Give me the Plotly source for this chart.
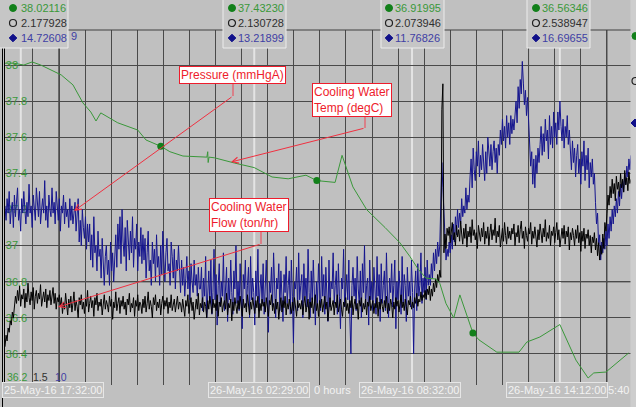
import plotly.graph_objects as go
import pandas as pd

# ---------------- data ----------------
START = "2016-05-25 16:55:40"
END = "2016-05-26 16:55:40"

# Condenser pressure (mmHgA), sampled evenly over the 24 h window
pressure_mmHgA = [
    15.1, 14.7, 15.3, 14.9, 15.5, 14.6, 15.0, 15.2, 14.5, 15.4, 14.8, 15.1, 15.6, 14.7, 15.0, 14.4, 15.3, 14.9, 15.5, 15.0,
    14.6, 15.2, 14.8, 15.7, 14.9, 15.1, 14.5, 15.4, 15.0, 14.7, 15.6, 15.2, 14.8, 15.5, 14.6, 15.0, 15.3, 14.9, 15.8, 14.7,
    15.1, 14.5, 15.4, 15.0, 14.8, 15.6, 14.9, 15.2, 14.6, 15.5, 15.0, 14.7, 15.3, 14.4, 15.1, 14.9, 15.4, 14.6, 15.2, 14.8,
    15.0, 14.5, 15.3, 14.7, 15.1, 14.6, 14.9,
    15.2, 14.4, 14.9, 15.3, 14.1, 14.7, 14.0, 15.0, 14.5, 14.2, 14.8, 13.9, 14.6, 14.1,
    14.6, 13.6, 14.3, 13.4, 14.8, 13.8, 14.0, 13.3, 14.4, 13.7,
    13.9, 13.1, 14.2, 13.4, 12.9, 13.7, 14.0, 13.2, 13.6, 12.9, 14.1, 13.3, 13.8, 13.0,
    13.6, 14.3, 13.4, 14.6, 13.9, 14.8, 13.5, 15.0, 14.1, 13.7, 14.5, 13.3, 14.7, 14.0, 13.6, 14.4, 13.8, 14.8, 13.4, 14.2,
    13.9, 14.6, 13.3, 14.1, 13.7, 14.5, 13.5, 14.3, 13.6,
    14.2, 13.1, 13.8, 14.4, 13.3, 13.6, 12.9, 14.1, 13.5, 13.9, 13.0, 14.3, 13.4, 13.7, 12.9, 14.0, 13.2, 14.4, 13.6, 13.0,
    13.8, 14.2, 13.3, 13.5, 12.9, 14.1, 13.7, 13.1, 13.9, 12.8, 13.6, 13.3, 14.0,
    13.2, 12.7, 13.6, 12.9, 13.4, 12.6, 13.1, 13.7, 12.8, 13.3, 12.5, 13.5, 13.0, 12.7, 13.6, 12.9, 13.2, 12.6, 13.4, 12.8,
    12.8, 13.4, 12.2, 13.1, 12.6, 13.7, 12.0, 12.9, 13.3, 12.4, 13.6, 12.1, 12.7, 13.9, 12.5, 13.2, 11.8, 12.9, 13.5, 12.3,
    13.0, 12.6, 13.8, 12.2, 12.9, 13.4, 11.9, 13.1, 12.5, 13.6, 12.7, 12.1, 13.3, 12.8, 14.0, 12.4, 13.0, 12.2, 13.5, 12.6,
    11.7, 13.2, 12.8, 13.6, 12.3, 12.9, 13.4, 12.0, 13.7, 12.5, 13.1, 12.7, 11.8, 13.3, 12.6, 13.9, 12.2, 12.8, 13.2, 12.4,
    13.5, 12.1, 12.9, 13.6, 12.5, 11.6, 13.0, 12.7, 13.4, 12.3, 13.8, 12.6, 12.0, 13.1, 12.8, 13.5, 12.2, 13.3, 12.5, 11.9,
    13.2, 12.7, 13.7, 12.4, 12.9, 13.3, 12.1, 13.6, 12.6, 11.3, 13.0, 12.8, 13.4, 12.2, 13.8, 12.5, 12.9, 13.2, 12.0, 13.5,
    12.6, 13.1, 12.3, 13.9, 12.7, 12.0, 13.3, 12.5, 13.6, 12.8, 11.8, 13.0, 12.4, 13.5, 12.9, 12.2, 13.7, 12.6, 13.2, 12.1,
    13.4, 12.7, 11.9, 13.6, 12.3, 13.0, 12.8, 13.8, 12.4, 12.9, 13.3, 12.1, 13.5, 12.6, 11.7, 13.1, 12.8, 13.9, 12.3, 12.7,
    13.2, 12.5, 13.6, 12.0, 11.0, 12.9, 13.4, 12.6, 13.1, 12.2, 13.7, 12.8, 12.4, 13.3, 12.0, 13.5, 12.7, 14.0, 12.3, 12.9,
    13.1, 11.8, 13.6, 12.5, 13.0, 12.2, 13.4, 12.8, 12.1, 13.7, 12.6, 13.2, 11.9, 13.5, 12.4, 12.9, 13.3, 12.2, 13.8, 12.6,
    12.0, 13.1, 12.7, 13.5, 12.3, 12.9, 13.6, 11.7, 13.0, 12.5, 13.3, 12.8, 12.1, 13.7, 12.4, 13.2, 12.9, 11.9, 13.4, 12.6,
    13.0, 12.3, 13.6, 12.7, 11.0, 12.8, 13.3, 12.2, 13.5, 12.6, 12.9, 13.8, 12.4, 13.1, 12.7, 13.4, 12.5, 13.6, 12.9, 13.2,
    12.9, 13.5, 13.1, 13.8, 13.3, 13.9, 13.5, 14.1, 13.7, 14.0,
    15.2, 16.3, 15.6, 14.8, 14.0, 13.6, 13.9, 13.7, 14.1,
    13.8, 14.3, 13.9, 14.6, 14.1, 14.8, 14.3, 15.0, 14.5, 14.9, 14.6, 15.3, 14.8, 15.1, 14.9, 15.6, 15.0, 15.4, 15.2,
    15.9, 16.4, 15.6, 16.7, 16.1, 15.8, 16.6, 16.2, 16.9, 15.9, 16.5, 16.1, 16.8, 16.3, 15.8, 16.6, 16.0, 17.0, 16.4, 16.2,
    16.8, 16.1, 16.6, 16.9, 16.3, 16.7, 16.0, 16.8, 16.5,
    17.2, 16.8, 17.5, 16.9, 17.3, 16.7, 17.6, 17.0, 17.4, 16.8, 17.6, 17.1, 17.5, 17.2,
    17.5, 18.0, 17.4, 18.4, 17.8, 18.6, 18.2, 19.1, 18.5, 17.9, 18.3, 17.6, 18.1, 17.3,
    17.0, 16.2, 16.6, 15.7, 16.4, 15.6, 16.5, 16.0, 16.7, 16.3,
    16.8, 17.3, 16.5, 17.1, 16.6, 17.5, 16.9, 17.2, 16.4, 17.6, 16.8, 17.3, 16.7, 17.7,
    17.0, 17.4, 16.8, 17.7, 17.2, 18.0, 17.3, 16.9, 17.5, 16.7, 17.3, 17.0, 17.6, 16.8, 17.2,
    16.6, 16.1, 16.9, 16.3, 16.7, 15.9, 16.5, 16.8, 16.0, 16.4, 15.7, 16.6, 16.2, 16.9, 15.8, 16.5, 16.1, 16.7, 15.6, 16.3,
    15.9, 16.4, 15.7, 16.0,
    15.2, 14.6, 14.9, 14.0, 14.3, 13.6, 14.1, 13.8, 14.2,
    13.9, 14.4, 14.0, 14.6, 14.2, 14.8, 14.4, 15.0, 14.6, 15.1, 14.8, 15.3, 14.9, 15.5, 15.1, 15.7, 15.3, 15.8, 15.5, 16.0,
    15.7, 16.2, 15.9, 16.4, 16.1, 16.5,
]

# Cooling water flow (ton/hr), sampled evenly over the 24 h window
flow_ton_hr = [
    1.80, 1.88, 1.84, 1.93, 1.90, 1.98, 1.95, 2.04, 2.00, 2.08,
    2.15, 2.10, 2.19, 2.12, 2.22, 2.08, 2.16, 2.13, 2.20, 2.07, 2.17, 2.11, 2.24, 2.14, 2.09, 2.18, 2.12, 2.21, 2.06, 2.15,
    2.19, 2.10, 2.17, 2.13, 2.23, 2.08, 2.14, 2.18, 2.11, 2.20, 2.07, 2.16, 2.12, 2.19, 2.09, 2.15, 2.21, 2.10, 2.17, 2.06,
    2.14, 2.11, 2.16,
    2.08, 2.14, 2.03, 2.11, 2.06, 2.17, 2.09, 2.02, 2.13, 2.07, 2.15, 2.04, 2.10, 2.18, 2.05, 2.12, 2.08, 2.00, 2.14, 2.09,
    2.16, 2.06, 2.11, 2.03, 2.13, 2.08, 2.19, 2.04, 2.10, 2.15, 2.07, 2.12, 2.01, 2.14, 2.09, 2.17, 2.05, 2.11, 2.08, 2.13,
    2.02, 2.10, 2.16, 2.06, 2.12, 2.09, 2.04, 2.15, 2.08, 2.13, 1.99, 2.11, 2.07, 2.18, 2.05, 2.10, 2.14, 2.03, 2.12, 2.08,
    2.15, 2.06, 2.11, 2.02, 2.13, 2.09, 2.17, 2.04, 2.10, 2.07, 2.14, 2.01, 2.12, 2.08, 2.16, 2.05, 2.11, 2.09, 2.03, 2.13,
    2.07, 2.15, 2.04, 2.10, 2.18, 2.06, 2.12, 2.08, 2.00, 2.14, 2.09, 2.16, 2.05, 2.11, 2.07, 2.13, 2.02, 2.10, 2.15, 2.06,
    2.12, 2.08, 2.14, 2.03, 2.11, 2.07, 2.16, 2.05, 2.10, 2.13, 2.04, 2.09, 2.15, 2.06, 2.11,
    2.10, 2.04, 2.13, 2.07, 2.01, 2.12, 2.08, 2.16, 2.03, 2.09, 2.14, 2.05, 2.11, 1.99, 2.08, 2.13, 2.06, 2.17, 2.02, 2.10,
    2.07, 2.14, 2.04, 2.11, 2.08, 2.00, 2.12, 2.06, 2.15, 2.09, 2.03, 2.13, 2.07, 2.10, 2.05, 2.16, 2.01, 2.11, 2.08, 2.14,
    2.04, 2.09, 2.12, 2.06, 2.17, 2.02, 2.10, 2.07, 2.13, 1.98, 2.11, 2.05, 2.14, 2.08, 2.03, 2.12, 2.06, 2.15, 2.09, 2.01,
    2.13, 2.07, 2.10, 2.04, 2.16, 2.08, 2.02, 2.11, 2.06, 2.14, 2.09, 2.03, 2.12, 2.07, 2.15, 2.00, 2.10, 2.05, 2.13, 2.08,
    2.11, 2.04, 2.14, 2.07, 2.01, 2.12, 2.09, 2.16, 2.05, 2.10, 2.03, 2.13, 2.06, 2.11, 1.99, 2.08, 2.14, 2.04, 2.12, 2.07,
    2.15, 2.02, 2.10, 2.06, 2.13, 2.08, 2.03, 2.11, 2.05, 2.14, 2.09, 2.01, 2.12, 2.07, 2.10,
    2.06, 2.12, 2.02, 2.10, 2.15, 2.04, 2.09, 2.13, 1.99, 2.11, 2.07, 2.14, 2.03, 2.08, 2.16, 2.05, 2.10, 2.01, 2.12, 2.07,
    2.13, 2.04, 2.09, 2.15, 2.06, 2.11, 1.98, 2.10, 2.14, 2.05, 2.08, 2.12, 2.02, 2.11, 2.07, 2.16, 2.04, 2.09, 2.13, 2.06,
    2.01, 2.11, 2.08, 2.14, 2.05, 2.10, 2.03, 2.12, 2.07, 2.15, 2.02, 2.09, 2.13, 2.06, 2.10, 1.99, 2.12, 2.08, 2.14, 2.04,
    2.10, 2.06, 2.13, 2.02, 2.11, 2.08, 2.15, 2.05, 2.09, 2.12, 2.03, 2.10, 2.07, 2.14, 2.01, 2.11, 2.06, 2.13, 2.08, 2.04,
    2.12, 2.07, 2.15, 2.03, 2.10, 2.05, 2.13, 2.09, 2.00, 2.11, 2.06, 2.14, 2.08, 2.12, 2.04, 2.10, 2.16, 2.07, 2.11, 2.05,
    2.13, 2.08, 2.02, 2.12, 2.09, 2.15, 2.06, 2.11, 2.07, 2.14, 2.10, 2.17, 2.08, 2.13, 2.11, 2.18, 2.12, 2.16, 2.14, 2.19,
    2.13, 2.20, 2.16, 2.22,
    2.12, 2.20, 2.15, 2.24, 2.18, 2.27, 2.21, 2.30, 2.25, 2.33, 2.28,
    3.44, 3.62,
    2.45, 2.58, 2.48, 2.62,
    2.57, 2.63, 2.52, 2.60, 2.66, 2.54, 2.59, 2.50, 2.64, 2.56, 2.61, 2.53, 2.67, 2.58, 2.51, 2.62, 2.55, 2.65, 2.49, 2.60,
    2.56, 2.63, 2.52, 2.68, 2.57, 2.61, 2.54, 2.59, 2.48, 2.64, 2.58, 2.53, 2.62, 2.56, 2.66, 2.51, 2.60, 2.55, 2.63, 2.50,
    2.59, 2.65, 2.54, 2.61, 2.57, 2.69, 2.52, 2.60, 2.56, 2.64, 2.49, 2.58, 2.62, 2.53, 2.66, 2.57, 2.51, 2.63, 2.55, 2.60,
    2.54, 2.62, 2.58, 2.65, 2.50, 2.59, 2.56, 2.64, 2.52, 2.61, 2.67, 2.55, 2.60, 2.48, 2.63, 2.57, 2.53, 2.62, 2.58, 2.66,
    2.51, 2.60, 2.55, 2.63, 2.57, 2.49, 2.61, 2.54, 2.65, 2.58, 2.52, 2.62, 2.56, 2.68, 2.53, 2.59, 2.55, 2.64, 2.50, 2.60,
    2.57, 2.63, 2.52, 2.59, 2.66, 2.54, 2.61, 2.49, 2.58, 2.62, 2.55, 2.64, 2.51, 2.60, 2.56, 2.63, 2.47, 2.59, 2.54, 2.62,
    2.57, 2.50, 2.61, 2.55, 2.64, 2.52, 2.59, 2.46, 2.60, 2.53, 2.62, 2.48, 2.58, 2.55, 2.61, 2.50, 2.57, 2.45, 2.56, 2.52,
    2.59, 2.47,
    2.55, 2.43, 2.52, 2.40, 2.50, 2.44, 2.58, 2.48, 2.66, 2.60,
    2.72, 2.85, 2.78, 2.91, 2.83, 2.96, 2.86, 2.93, 2.81, 2.98, 2.89, 2.94, 2.84, 3.00, 2.90, 2.96, 2.87, 3.02, 2.92, 2.97,
    2.88, 3.01, 2.93, 2.96,
]

# Cooling water temperature (degC)
temp_times = [
    "2016-05-25 16:55:40", "2016-05-25 17:16", "2016-05-25 17:39", "2016-05-25 17:58", "2016-05-25 18:18",
    "2016-05-25 19:05", "2016-05-25 19:32", "2016-05-25 19:55", "2016-05-25 20:13", "2016-05-25 20:25",
    "2016-05-25 20:36", "2016-05-25 21:15", "2016-05-25 22:01", "2016-05-25 22:20", "2016-05-25 22:54",
    "2016-05-25 23:15", "2016-05-25 23:45", "2016-05-26 00:22", "2016-05-26 00:40", "2016-05-26 00:42",
    "2016-05-26 00:43", "2016-05-26 00:45", "2016-05-26 00:58", "2016-05-26 01:44", "2016-05-26 02:29",
    "2016-05-26 03:10", "2016-05-26 03:47", "2016-05-26 04:28", "2016-05-26 04:53", "2016-05-26 05:35",
    "2016-05-26 05:51", "2016-05-26 06:16", "2016-05-26 06:48", "2016-05-26 07:30", "2016-05-26 08:04",
    "2016-05-26 08:27", "2016-05-26 08:46", "2016-05-26 09:04", "2016-05-26 09:27", "2016-05-26 09:36",
    "2016-05-26 09:50", "2016-05-26 10:08", "2016-05-26 10:22", "2016-05-26 10:52", "2016-05-26 11:06",
    "2016-05-26 11:47", "2016-05-26 12:38", "2016-05-26 12:56", "2016-05-26 13:26", "2016-05-26 14:12",
    "2016-05-26 14:49", "2016-05-26 15:17", "2016-05-26 15:30", "2016-05-26 15:58", "2016-05-26 16:50",
]
temp_degC = [
    38.010, 38.010, 38.000, 38.017, 38.000,
    37.945, 37.890, 37.790, 37.740, 37.690,
    37.735, 37.680, 37.640, 37.585, 37.550,
    37.520, 37.496, 37.490, 37.490, 37.520,
    37.460, 37.490, 37.486, 37.457, 37.432,
    37.380, 37.370, 37.390, 37.360, 37.350,
    37.500, 37.325, 37.198, 37.100, 37.016,
    36.940, 36.870, 36.820, 36.815, 36.790,
    36.680, 36.600, 36.727, 36.516, 36.478,
    36.410, 36.410, 36.466, 36.494, 36.563,
    36.366, 36.267, 36.295, 36.300, 36.405,
]
temp_marker_times = ["2016-05-25 22:54", "2016-05-26 04:53", "2016-05-26 10:52"]
temp_marker_degC = [37.550, 37.360, 36.516]

temp_ticks = [36.4, 36.6, 36.8, 37.0, 37.2, 37.4, 37.6, 37.8, 38.0]
temp_tick_text = ["36.4", "36.6", "36.8", "37", "37.2", "37.4", "37.6", "37.8", "38"]

cursor_times = ["2016-05-25 17:32:00", "2016-05-26 02:29:00", "2016-05-26 08:32:00", "2016-05-26 14:12:00"]
cursor_labels = ["25-May-16 17:32:00", "26-May-16 02:29:00", "26-May-16 08:32:00", "26-May-16 14:12:00"]
cursor_temp = ["38.02116", "37.43230", "36.91995", "36.56346"]
cursor_flow = ["2.177928", "2.130728", "2.073946", "2.538947"]
cursor_pres = ["14.72608", "13.21899", "11.76826", "16.69655"]

span_label = "0 hours"      # visible tail of the span label
end_label = "5:40"          # visible tail of the end-time label

# ---------------- geometry / style ----------------
W, H = 636, 407
ML, MR, MT, MB = 5, 5, 30, 22
PW, PH = W - ML - MR, H - MT - MB
BG = "#c0c0c0"
GRID = "#4a4a4a"
GREEN = "#3a983a"
GREEN_DK = "#12801a"
BLUE = "#15158e"
BLUE_TXT = "#4040a4"
DARK_TXT = "#303030"
RED = "#ee1c2c"
FONT = "Arial, Liberation Sans, sans-serif"


def px(x):
    return (x - ML) / PW


def py(y):
    return (H - MB - y) / PH


# y pixel of gridline for axis bottom value / top value
Y_BOT, Y_TOP = 390.1, 28.9


def rng(v0, v1):
    per = (v1 - v0) / (Y_BOT - Y_TOP)
    return [v0 + (Y_BOT - (H - MB)) * per, v0 + (Y_BOT - MT) * per]


temp_range = rng(36.2, 38.2)
flow_range = rng(1.5, 4.0)
pres_range = rng(10.0, 20.0)

fig = go.Figure()

p_times = pd.date_range(START, END, periods=len(pressure_mmHgA))
f_times = pd.date_range(START, END, periods=len(flow_ton_hr))

fig.add_trace(go.Scatter(x=p_times, y=pressure_mmHgA, mode="lines", yaxis="y2",
                         line=dict(color=BLUE, width=1), hoverinfo="skip"))
fig.add_trace(go.Scatter(x=f_times, y=flow_ton_hr, mode="lines", yaxis="y3",
                         line=dict(color="#000000", width=1), hoverinfo="skip"))
fig.add_trace(go.Scatter(x=temp_times, y=temp_degC, mode="lines", yaxis="y4",
                         line=dict(color=GREEN, width=1), hoverinfo="skip"))
fig.add_trace(go.Scatter(x=temp_marker_times, y=temp_marker_degC, mode="markers", yaxis="y4",
                         marker=dict(color=GREEN_DK, size=7), hoverinfo="skip"))

shapes = []
# darker grid lines
for t in ["2016-05-25 19:00", "2016-05-26 13:00", "2016-05-26 16:00"]:
    shapes.append(dict(type="line", xref="x", yref="paper", x0=t, x1=t, y0=0, y1=1,
                       line=dict(color="#000000", width=1), layer="between"))
for v in [37.2, 36.8]:
    shapes.append(dict(type="line", xref="paper", yref="y", x0=0, x1=1, y0=v, y1=v,
                       line=dict(color="#000000", width=1), layer="between"))
# cursor lines
for t in cursor_times:
    shapes.append(dict(type="line", xref="x", yref="paper", x0=t, x1=t, y0=0, y1=1,
                       line=dict(color="#e4e4e4", width=2), layer="between"))
# borders
shapes.append(dict(type="line", xref="paper", yref="paper", x0=0, x1=1, y0=1, y1=1,
                   line=dict(color="#404040", width=1), layer="above"))
shapes.append(dict(type="line", xref="paper", yref="paper", x0=px(2.5), x1=px(2.5), y0=py(407), y1=py(30),
                   line=dict(color="#000000", width=1), layer="above"))
shapes.append(dict(type="rect", xref="paper", yref="paper", x0=px(630.5), x1=px(640), y0=py(410), y1=py(-3),
                   fillcolor="#cdcdcd", line=dict(width=0), layer="above"))

annotations = []

# tooltip boxes at the top
boxes = [(-3, 68, 13, 20), (223, 286, 232, 237), (381, 444, 389, 394), (527, 590, 536, 541)]
rows = [8, 23, 38]
for (bx0, bx1, mx, tx), vt, vf, vp in zip(boxes, cursor_temp, cursor_flow, cursor_pres):
    shapes.append(dict(type="rect", xref="paper", yref="paper", x0=px(bx0), x1=px(bx1), y0=py(48), y1=py(-2),
                       fillcolor="#c6c6c6", line=dict(color="#ececec", width=1), layer="above"))
    shapes.append(dict(type="circle", xref="paper", yref="paper", x0=px(mx - 3.5), x1=px(mx + 3.5),
                       y0=py(rows[0] + 3.5), y1=py(rows[0] - 3.5), fillcolor=GREEN_DK,
                       line=dict(color=GREEN_DK, width=1), layer="above"))
    shapes.append(dict(type="circle", xref="paper", yref="paper", x0=px(mx - 3.5), x1=px(mx + 3.5),
                       y0=py(rows[1] + 3.5), y1=py(rows[1] - 3.5), fillcolor="rgba(0,0,0,0)",
                       line=dict(color="#202020", width=1.2), layer="above"))
    d = 3.8
    shapes.append(dict(type="path", xref="paper", yref="paper",
                       path=f"M {px(mx - d)},{py(rows[2])} L {px(mx)},{py(rows[2] - d)} "
                            f"L {px(mx + d)},{py(rows[2])} L {px(mx)},{py(rows[2] + d)} Z",
                       fillcolor="#10108a", line=dict(color="#10108a", width=1), layer="above"))
    for yy, txt, col in [(rows[0], vt, GREEN), (rows[1], vf, DARK_TXT), (rows[2], vp, BLUE_TXT)]:
        annotations.append(dict(x=px(tx - 1), y=py(yy), xref="paper", yref="paper", text=txt,
                                showarrow=False, xanchor="left", yanchor="middle",
                                font=dict(family=FONT, size=11, color=col)))

# partial legend markers at right edge
shapes.append(dict(type="circle", xref="paper", yref="paper", x0=px(632), x1=px(639),
                   y0=py(39.5), y1=py(32.5), fillcolor=GREEN_DK, line=dict(color=GREEN_DK, width=1), layer="above"))
shapes.append(dict(type="circle", xref="paper", yref="paper", x0=px(632), x1=px(639),
                   y0=py(84.5), y1=py(77.5), fillcolor="rgba(0,0,0,0)", line=dict(color="#202020", width=1.2),
                   layer="above"))
shapes.append(dict(type="path", xref="paper", yref="paper",
                   path=f"M {px(631)},{py(123)} L {px(635)},{py(119)} L {px(639)},{py(123)} L {px(635)},{py(127)} Z",
                   fillcolor="#10108a", line=dict(color="#10108a", width=1), layer="above"))

# axis end labels
annotations += [
    dict(x=px(5), y=py(377), xref="paper", yref="paper", text="36.2", showarrow=False, xanchor="left",
         yanchor="middle", font=dict(family=FONT, size=10.5, color=GREEN)),
    dict(x=px(31), y=py(377), xref="paper", yref="paper", text="1.5", showarrow=False, xanchor="left",
         yanchor="middle", font=dict(family=FONT, size=10.5, color=DARK_TXT)),
    dict(x=px(53), y=py(377), xref="paper", yref="paper", text="10", showarrow=False, xanchor="left",
         yanchor="middle", font=dict(family=FONT, size=10.5, color=BLUE_TXT)),
    dict(x=px(69), y=py(36), xref="paper", yref="paper", text="9", showarrow=False, xanchor="left",
         yanchor="middle", font=dict(family=FONT, size=11, color=BLUE_TXT)),
]

# bottom time labels
TL_FONT = dict(family=FONT, size=11, color="#f2f2f2")
annotations.append(dict(x=px(312), y=py(390), xref="paper", yref="paper", text=span_label, showarrow=False,
                        xanchor="left", yanchor="middle", font=TL_FONT))
annotations.append(dict(x=px(606), y=py(390), xref="paper", yref="paper", text=end_label, showarrow=False,
                        xanchor="left", yanchor="middle", font=TL_FONT))
for cx, lab in zip([53, 259, 410, 557], cursor_labels):
    annotations.append(dict(x=px(cx), y=py(390), xref="paper", yref="paper", text=lab, showarrow=False,
                            xanchor="center", yanchor="middle", font=TL_FONT, bgcolor=BG,
                            bordercolor="#e6e6e6", borderwidth=1, borderpad=1))

# callouts
callouts = [
    ("Pressure (mmHgA)", (232, 75), (233, 84), (233, 96), (74, 211)),
    ("Cooling Water<br>Temp (degC)", (352, 100), (365, 116), (365, 128), (231, 162)),
    ("Cooling Water<br>Flow (ton/hr)", (249, 215), (261, 231), (261, 244), (58, 307)),
]
for text, (cx, cy), (k0x, k0y), (k1x, k1y), (tx, ty) in callouts:
    shapes.append(dict(type="line", xref="paper", yref="paper", x0=px(k0x), x1=px(k1x), y0=py(k0y), y1=py(k1y),
                       line=dict(color="#f04050", width=1), layer="above"))
    annotations.append(dict(x=px(tx), y=py(ty), xref="paper", yref="paper", text="", showarrow=True,
                            ax=k1x - tx, ay=k1y - ty, arrowhead=5, arrowsize=1.2, arrowwidth=1,
                            arrowcolor="#f03040"))
for text, (cx, cy), _, _, _ in callouts:
    annotations.append(dict(x=px(cx), y=py(cy), xref="paper", yref="paper", text=text, showarrow=False,
                            xanchor="center", yanchor="middle", align="left", bgcolor="#ffffff",
                            bordercolor=RED, borderwidth=1, borderpad=1,
                            font=dict(family=FONT, size=12, color=RED)))

fig.update_layout(
    width=W, height=H,
    margin=dict(l=ML, r=MR, t=MT, b=MB, pad=0),
    paper_bgcolor=BG, plot_bgcolor=BG,
    showlegend=False, hovermode=False,
    xaxis=dict(type="date", range=[START, END], showgrid=True, gridcolor=GRID, gridwidth=1,
               dtick=3600000, tick0="2016-05-25 00:00:00", showticklabels=False, ticks="",
               zeroline=False, showline=False, fixedrange=True),
    yaxis=dict(range=temp_range, tickvals=temp_ticks, ticktext=temp_tick_text,
               ticklabelposition="inside", ticks="", tickfont=dict(family=FONT, size=11, color=GREEN),
               showgrid=True, gridcolor=GRID, gridwidth=1, zeroline=False,
               showline=True, linecolor="#000000", linewidth=1, layer="below traces", fixedrange=True),
    yaxis2=dict(overlaying="y", range=pres_range, visible=False, fixedrange=True),
    yaxis3=dict(overlaying="y", range=flow_range, visible=False, fixedrange=True),
    yaxis4=dict(overlaying="y", range=temp_range, visible=False, fixedrange=True),
    shapes=shapes,
    annotations=annotations,
)

fig.write_html("out.html", config={"displayModeBar": False},
               post_script="document.body.style.margin='0px';document.body.style.overflow='hidden';")
